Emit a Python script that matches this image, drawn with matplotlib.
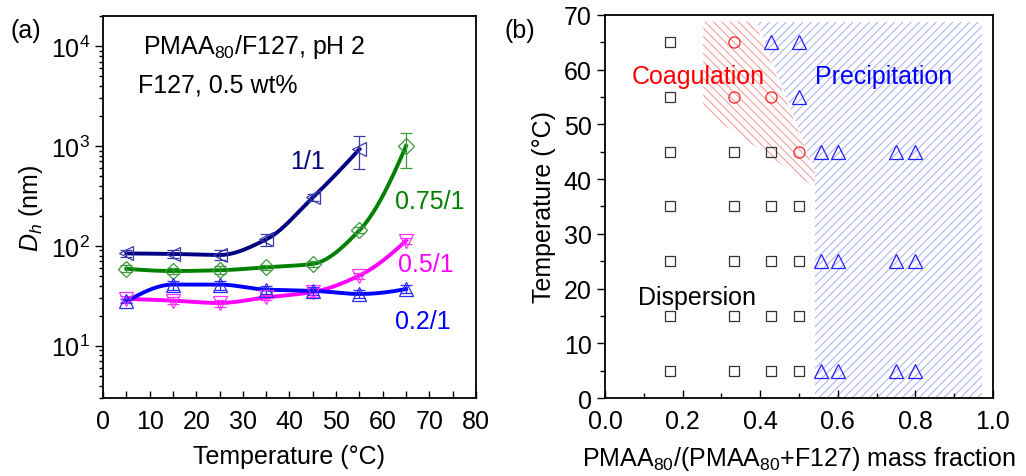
import numpy as np
import matplotlib
matplotlib.use("Agg")
import matplotlib.pyplot as plt
from matplotlib.patches import Polygon
from matplotlib.ticker import MultipleLocator, LogLocator, NullFormatter

plt.rcParams['font.family'] = ['Liberation Sans', 'DejaVu Sans']
plt.rcParams['mathtext.fontset'] = 'custom'
plt.rcParams['mathtext.rm'] = 'Liberation Sans'
plt.rcParams['mathtext.it'] = 'Liberation Sans:italic'
plt.rcParams['font.size'] = 18
plt.rcParams['hatch.linewidth'] = 0.8

# ---------------- Panel (a) data ----------------
temps = [5, 15, 25, 35, 45, 55, 65]
temps_11 = [5, 15, 25, 35, 45, 55]
dh_11 = [84, 83, 81, 116, 305, 930]
lo_11 = [78, 76, 72, 100, 280, 590]
hi_11 = [90, 90, 90, 132, 330, 1250]
dh_075 = [59, 56, 57, 61, 66, 143, 1000]
lo_075 = [55, 52, 52, 57, 62, 133, 600]
hi_075 = [64, 60, 63, 65, 71, 153, 1350]
dh_05 = [29.5, 28.3, 26.8, 30.5, 34.5, 50.5, 113]
lo_05 = [27.5, 26, 24.5, 28.5, 31, 47, 105]
hi_05 = [31.5, 30.5, 29, 32.5, 38, 54, 121]
dh_02 = [27.8, 41, 41, 36.5, 35.5, 33, 37]
lo_02 = [26.5, 36, 36, 33, 32.5, 30, 34]
hi_02 = [29.5, 45, 45, 39.5, 38.5, 36, 41]

# ---------------- Panel (b) data ----------------
disp_x = [0.167]*7 + [0.333]*5 + [0.429]*5 + [0.5]*4
disp_t = [5, 15, 25, 35, 45, 55, 65, 5, 15, 25, 35, 45, 5, 15, 25, 35, 45, 5, 15, 25, 35]
coag_x = [0.333, 0.333, 0.429, 0.5]
coag_t = [65, 55, 55, 45]
prec_x = [0.429, 0.5, 0.5] + [0.556, 0.6, 0.75, 0.8]*3
prec_t = [65, 65, 55] + [45]*4 + [25]*4 + [5]*4
coag_region_x = [0.253, 0.385, 0.54, 0.54, 0.253]
coag_region_t = [68.8, 68.8, 41.5, 38.5, 52.5]
prec_region_x = [0.392, 0.972, 0.972, 0.54, 0.54]
prec_region_t = [68.8, 68.8, 0, 0, 41.5]


def pchip(x, y, xn):
    x = np.asarray(x, float); y = np.asarray(y, float)
    h = np.diff(x); d = np.diff(y) / h
    n = len(x); m = np.zeros(n)
    for k in range(1, n - 1):
        if d[k - 1] * d[k] > 0:
            w1 = 2 * h[k] + h[k - 1]; w2 = h[k] + 2 * h[k - 1]
            m[k] = (w1 + w2) / (w1 / d[k - 1] + w2 / d[k])
    m[0] = ((2 * h[0] + h[1]) * d[0] - h[0] * d[1]) / (h[0] + h[1])
    if np.sign(m[0]) != np.sign(d[0]):
        m[0] = 0
    m[-1] = ((2 * h[-1] + h[-2]) * d[-1] - h[-1] * d[-2]) / (h[-1] + h[-2])
    if np.sign(m[-1]) != np.sign(d[-1]):
        m[-1] = 0
    idx = np.clip(np.searchsorted(x, xn) - 1, 0, n - 2)
    t = (xn - x[idx]) / h[idx]
    h00 = 2*t**3 - 3*t**2 + 1; h10 = t**3 - 2*t**2 + t
    h01 = -2*t**3 + 3*t**2; h11 = t**3 - t**2
    return h00*y[idx] + h10*h[idx]*m[idx] + h01*y[idx+1] + h11*h[idx]*m[idx+1]


fig = plt.figure(figsize=(10.26, 4.77), dpi=100)
axa = fig.add_axes([0.1004, 0.1635, 0.3635, 0.8009])
axb = fig.add_axes([0.5897, 0.1635, 0.3781, 0.8030])

series = [
    (temps_11, dh_11, lo_11, hi_11, '#000080', '#3a3aa8', '<', 10.5),
    (temps, dh_075, lo_075, hi_075, '#008000', '#3a9a3a', 'D', 8.5),
    (temps, dh_05, lo_05, hi_05, '#ff00ff', '#ff30ff', 'v', 10.5),
    (temps, dh_02, lo_02, hi_02, '#0000ff', '#2a2aff', '^', 10.5),
]
for x, y, lo, hi, lc, mc, mk, ms in series:
    x = np.asarray(x, float); y = np.asarray(y, float)
    xs = np.linspace(x[0], x[-1], 300)
    ys = 10 ** pchip(x, np.log10(y), xs)
    axa.plot(xs, ys, color=lc, lw=2.8, zorder=2)
    yerr = [y - np.asarray(lo), np.asarray(hi) - y]
    axa.errorbar(x, y, yerr=yerr, fmt=mk, ms=ms, mfc='none', mec=mc, mew=0.9,
                 ecolor=mc, elinewidth=0.9, capsize=4, capthick=0.9, zorder=3)

axa.set_yscale('log')
axa.set_xlim(0, 80)
axa.set_ylim(3, 2e4)
axa.xaxis.set_major_locator(MultipleLocator(10))
axa.xaxis.set_minor_locator(MultipleLocator(5))
axa.yaxis.set_major_locator(LogLocator(base=10, numticks=10))
axa.yaxis.set_minor_locator(LogLocator(base=10, subs=np.arange(2, 10), numticks=20))
axa.yaxis.set_minor_formatter(NullFormatter())
axa.tick_params(axis='x', which='both', direction='in', top=False, length=5, width=1, pad=8)
axa.tick_params(axis='y', which='major', direction='out', right=False, length=6, width=1)
axa.tick_params(axis='y', which='minor', direction='out', right=False, length=3, width=1)
axa.set_xlabel('Temperature (°C)', labelpad=8)
axa.set_ylabel('$D_h$ (nm)', labelpad=4)
for s in axa.spines.values():
    s.set_linewidth(1.3)

axa.text(8.6, 1.0e4, 'PMAA$_{80}$/F127, pH 2', ha='left', va='center')
axa.text(7.5, 4.1e3, 'F127, 0.5 wt%', ha='left', va='center')
axa.text(40.2, 700, '1/1', color='#000080', ha='left', va='center')
axa.text(62.6, 282, '0.75/1', color='#008000', ha='left', va='center')
axa.text(63.3, 66, '0.5/1', color='#ff00ff', ha='left', va='center')
axa.text(62.6, 17.5, '0.2/1', color='#0000ff', ha='left', va='center')
fig.text(0.010, 0.935, '(a)', ha='left', va='center')
fig.text(0.492, 0.935, '(b)', ha='left', va='center')

# ---------------- Panel (b) ----------------
axb.add_patch(Polygon(list(zip(coag_region_x, coag_region_t)), closed=True,
                      facecolor='none', edgecolor='#f5a0a0', lw=0, hatch='\\\\\\\\', zorder=1))
axb.add_patch(Polygon(list(zip(prec_region_x, prec_region_t)), closed=True,
                      facecolor='none', edgecolor='#b0b4f0', lw=0, hatch='////', zorder=1))
axb.plot(disp_x, disp_t, 's', ms=6.5, mfc='none', mec='#333333', mew=0.9, zorder=3)
axb.plot(coag_x, coag_t, 'o', ms=8, mfc='none', mec='#ff2020', mew=0.9, zorder=3)
axb.plot(prec_x, prec_t, '^', ms=9.5, mfc='none', mec='#2020ff', mew=0.9, zorder=3)

axb.set_xlim(0, 1.0)
axb.set_ylim(0, 70)
axb.xaxis.set_major_locator(MultipleLocator(0.2))
axb.xaxis.set_minor_locator(MultipleLocator(0.1))
axb.xaxis.set_major_formatter(matplotlib.ticker.FormatStrFormatter('%.1f'))
axb.yaxis.set_major_locator(MultipleLocator(10))
axb.yaxis.set_minor_locator(MultipleLocator(5))
axb.tick_params(axis='x', which='major', direction='in', top=False, length=6, width=1, pad=8)
axb.tick_params(axis='x', which='minor', direction='in', top=False, length=3.5, width=1)
axb.tick_params(axis='y', which='major', direction='out', right=False, length=6, width=1)
axb.tick_params(axis='y', which='minor', direction='out', right=False, length=3.5, width=1)
axb.set_xlabel('PMAA$_{80}$/(PMAA$_{80}$+F127) mass fraction', labelpad=8)
axb.set_ylabel('Temperature (°C)', labelpad=6)
for s in axb.spines.values():
    s.set_linewidth(1.3)

axb.text(0.069, 58.9, 'Coagulation', color='#ff0000', ha='left', va='center', zorder=4)
axb.text(0.541, 58.9, 'Precipitation', color='#0000ff', ha='left', va='center', zorder=4)
axb.text(0.085, 18.4, 'Dispersion', color='black', ha='left', va='center', zorder=4)

fig.savefig('out.png', dpi=100)
